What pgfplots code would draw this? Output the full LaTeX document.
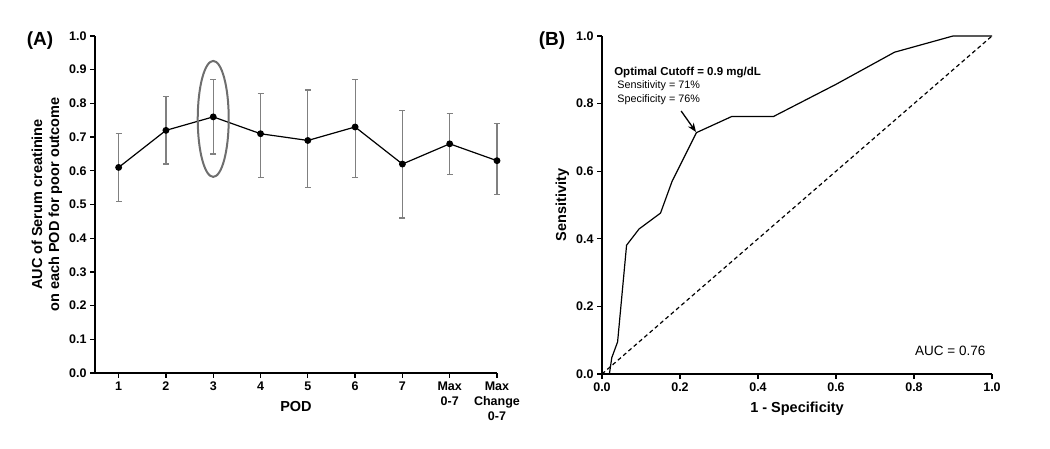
\documentclass[border=0pt]{standalone}
\usepackage{pgfplots}
\pgfplotsset{compat=1.18}
\usepackage{fontspec}
\setmainfont{Liberation Sans}
\usetikzlibrary{arrows.meta}
\definecolor{ebgray}{HTML}{808080}
\definecolor{ellgray}{HTML}{6E6E6E}
\begin{document}
\begin{tikzpicture}[x=1pt,y=1pt]
\path[use as bounding box] (0,0) rectangle (1050,449);
\pgfplotsset{
  common/.style={
    scale only axis,
    anchor=south west,
    axis x line*=bottom,
    axis y line*=left,
    axis line style={line width=1.3pt,-},
    tick align=outside,
    major tick length=5pt,
    tick style={line width=1.3pt,black},
    /pgf/number format/assume math mode=true,
    /pgf/number format/fixed,
    /pgf/number format/fixed zerofill,
    /pgf/number format/precision=1,
    ticklabel style={font=\bfseries\fontsize{12.5}{14}\selectfont},
    label style={font=\bfseries\fontsize{14.5}{17}\selectfont},
    xlabel style={at={(axis description cs:0.5,0)}, anchor=base, yshift=-39pt},
    clip=false,
  }
}
% ---------------- Panel A ----------------
\begin{axis}[common,
  at={(95pt,76pt)}, width=402pt, height=337pt,
  xmin=0.5, xmax=9, ymin=0, ymax=1,
  ytick={0,0.1,...,1.0},
  xtick={1,2,3,4,5,6,7,8,9},
  xticklabels={1,2,3,4,5,6,7,{Max\\0-7},{Max\\Change\\0-7}},
  xticklabel style={align=center, font=\bfseries\fontsize{12.5}{15}\selectfont},
  xlabel={POD},
  ylabel={AUC of Serum creatinine\\on each POD for poor outcome},
  ylabel style={align=center},
]
\addplot[black, line width=1.2pt, mark=*, mark size=2.8pt,
  error bars/.cd, y dir=both, y explicit,
  error bar style={ebgray, line width=1.2pt},
  error mark options={rotate=90, ebgray, mark size=3pt, line width=1.2pt}]
  table[x=x, y=y, y error plus=ep, y error minus=em] {
x y ep em
1 0.61 0.10 0.10
2 0.72 0.10 0.10
3 0.76 0.11 0.11
4 0.71 0.12 0.13
5 0.69 0.15 0.14
6 0.73 0.14 0.15
7 0.62 0.16 0.16
8 0.68 0.09 0.09
9 0.63 0.11 0.10
};
\draw[ellgray, line width=2pt] (axis cs:3,0.754) ellipse [x radius=15.5pt, y radius=58pt];
\end{axis}
\node[font=\bfseries\fontsize{19}{22}\selectfont] at (40,408) {(A)};
% ---------------- Panel B ----------------
\begin{axis}[common,
  at={(602pt,75pt)}, width=390pt, height=338pt,
  xmin=0, xmax=1, ymin=0, ymax=1,
  xtick={0,0.2,...,1.0},
  ytick={0,0.2,...,1.0},
  xlabel={1 - Specificity},
  ylabel={Sensitivity},
]
\addplot[black, dashed, line width=1.2pt, dash pattern=on 4pt off 3pt] table {
x y
0 0
1 1
};
\addplot[black, line width=1.2pt] table {
x y
0 0
0.019 0
0.025 0.048
0.040 0.095
0.063 0.381
0.095 0.429
0.150 0.476
0.180 0.571
0.242 0.714
0.333 0.762
0.440 0.762
0.600 0.857
0.750 0.952
0.900 1.000
1.000 1.000
};
\node[anchor=base west, inner sep=0pt, font=\bfseries\fontsize{11.5}{13}\selectfont] at (axis cs:0.031,0.882) {Optimal Cutoff = 0.9 mg/dL};
\node[anchor=base west, inner sep=0pt, font=\fontsize{10.8}{13}\selectfont] at (axis cs:0.039,0.846) {Sensitivity = 71\%};
\node[anchor=base west, inner sep=0pt, font=\fontsize{10.8}{13}\selectfont] at (axis cs:0.039,0.802) {Specificity = 76\%};
\draw[-{Stealth[length=9pt,width=7pt]}, line width=1.3pt] (axis cs:0.203,0.778) -- (axis cs:0.241,0.716);
\node[font=\fontsize{13.5}{16}\selectfont] at (axis cs:0.893,0.068) {AUC = 0.76};
\end{axis}
\node[font=\bfseries\fontsize{19}{22}\selectfont] at (552,408) {(B)};
\end{tikzpicture}
\end{document}
